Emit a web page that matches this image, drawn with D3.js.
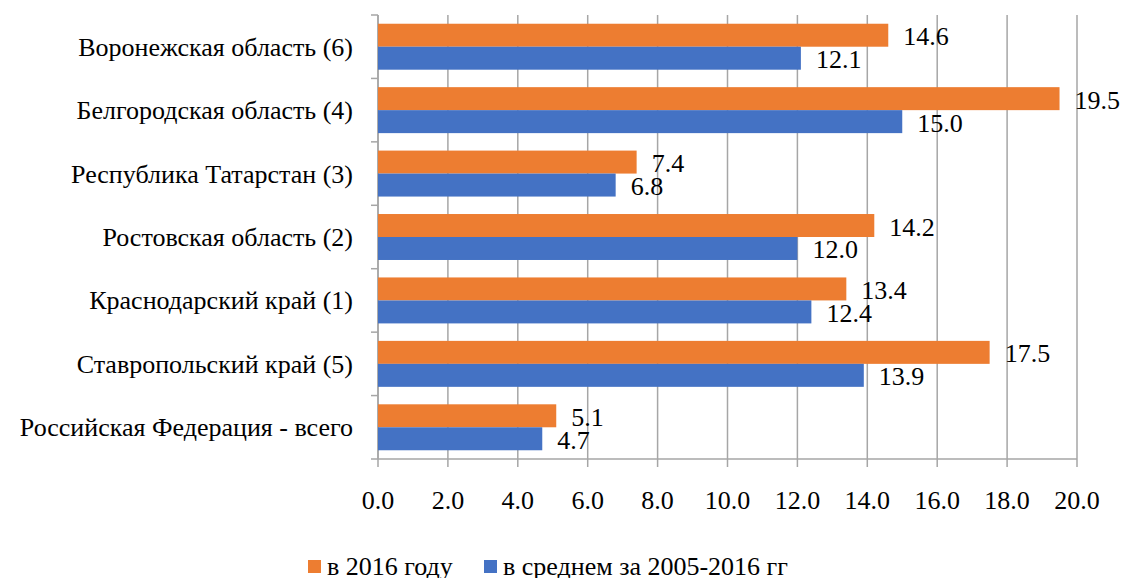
<!DOCTYPE html>
<html>
<head>
<meta charset="utf-8">
<script src="https://cdn.jsdelivr.net/npm/d3@7"></script>
</head>
<body style="margin:0">
<script>
// chart data, top to bottom
var categories = [
	"Воронежская область (6)",
	"Белгородская область (4)",
	"Республика Татарстан (3)",
	"Ростовская область (2)",
	"Краснодарский край (1)",
	"Ставропольский край (5)",
	"Российская Федерация - всего"
];
var values2016 = [14.6, 19.5, 7.4, 14.2, 13.4, 17.5, 5.1];
var valuesAvg = [12.1, 15.0, 6.8, 12.0, 12.4, 13.9, 4.7];
var seriesNames = ["в 2016 году", "в среднем за 2005-2016 гг"];
var seriesColours = ["#ED7D31", "#4472C4"];
var xTicks = [0, 2, 4, 6, 8, 10, 12, 14, 16, 18, 20];

var width = 1124, height = 578;
var plotLeft = 378, plotRight = 1077, plotTop = 15, plotBottom = 459;
var faces = ["Times New Roman", "Liberation Serif"];

var svg = d3.select("body")
	.append("svg")
	.attr("width", width)
	.attr("height", height);

// font picked from the list, like in the font test page
function styleText(sel) {
	return sel
		.style("font-size", "26px")
		.style("font-family", function() { return faces[0]; });
}

var x = d3.scaleLinear().domain([0, 20]).range([plotLeft, plotRight]);
var y = d3.scaleBand().domain(categories).range([plotTop, plotBottom]);
var inner = d3.scaleBand().domain([0, 1]).range([0, y.bandwidth()]).paddingInner(0).paddingOuter(0.38);

var grid = "#a6a6a6";

// vertical gridlines
svg.selectAll("line.grid")
	.data(xTicks)
	.enter()
	.append("line")
	.attr("class", "grid")
	.attr("x1", function(d) { return x(d); })
	.attr("x2", function(d) { return x(d); })
	.attr("y1", plotTop)
	.attr("y2", plotBottom + 8)
	.style("stroke", grid)
	.style("stroke-width", 1.5);

// bottom axis line
svg.append("line")
	.attr("x1", plotLeft).attr("x2", plotRight)
	.attr("y1", plotBottom).attr("y2", plotBottom)
	.style("stroke", grid).style("stroke-width", 1.5);

// tick labels
styleText(svg.selectAll("text.tick")
	.data(xTicks)
	.enter()
	.append("text")
	.attr("class", "tick")
	.attr("x", function(d) { return x(d); })
	.attr("y", plotBottom + 50)
	.style("text-anchor", "middle")
	.text(d3.format(".1f")));

// left axis with ticks between categories
svg.append("line")
	.attr("x1", plotLeft).attr("x2", plotLeft)
	.attr("y1", plotTop).attr("y2", plotBottom)
	.style("stroke", grid).style("stroke-width", 1.5);
var boundaries = categories.map(function(c) { return y(c); }).concat([plotBottom]);
svg.selectAll("line.ytick")
	.data(boundaries)
	.enter()
	.append("line")
	.attr("class", "ytick")
	.attr("x1", plotLeft - 7).attr("x2", plotLeft)
	.attr("y1", function(d) { return d; })
	.attr("y2", function(d) { return d; })
	.style("stroke", grid).style("stroke-width", 1.5);

// category labels
styleText(svg.selectAll("text.cat")
	.data(categories)
	.enter()
	.append("text")
	.attr("class", "cat")
	.attr("x", plotLeft - 25)
	.attr("y", function(d) { return y(d) + y.bandwidth() / 2 + 9; })
	.style("text-anchor", "end")
	.text(function(d) { return d; }));

// bars
var rows = [];
categories.forEach(function(c, i) {
	rows.push({ cat: c, s: 0, v: values2016[i] });
	rows.push({ cat: c, s: 1, v: valuesAvg[i] });
});

svg.selectAll("rect.bar")
	.data(rows)
	.enter()
	.append("rect")
	.attr("class", "bar")
	.attr("x", x(0))
	.attr("y", function(d) { return y(d.cat) + inner(d.s); })
	.attr("width", function(d) { return x(d.v) - x(0); })
	.attr("height", inner.bandwidth())
	.style("fill", function(d) { return seriesColours[d.s]; });

// value labels
styleText(svg.selectAll("text.val")
	.data(rows)
	.enter()
	.append("text")
	.attr("class", "val")
	.attr("x", function(d) { return x(d.v) + 15; })
	.attr("y", function(d) { return y(d.cat) + inner(d.s) + inner.bandwidth() / 2 + 10; })
	.text(function(d) { return d.v.toFixed(1); }));

// legend
var legendX = [308, 484];
svg.selectAll("rect.key")
	.data(seriesNames)
	.enter()
	.append("rect")
	.attr("class", "key")
	.attr("x", function(d, i) { return legendX[i]; })
	.attr("y", 560)
	.attr("width", 13).attr("height", 13)
	.style("fill", function(d, i) { return seriesColours[i]; });
styleText(svg.selectAll("text.key")
	.data(seriesNames)
	.enter()
	.append("text")
	.attr("class", "key")
	.attr("x", function(d, i) { return legendX[i] + 19; })
	.attr("y", 575)
	.text(function(d) { return d; }));
</script>
</body>
</html>
